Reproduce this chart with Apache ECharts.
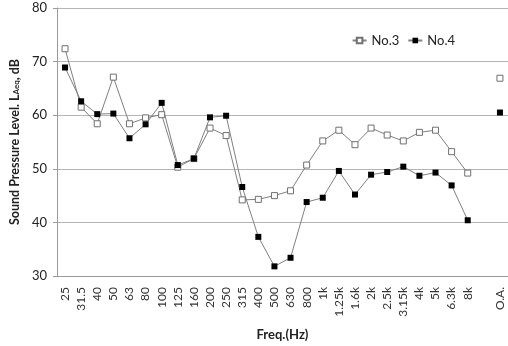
<!DOCTYPE html>
<html>
<head>
<meta charset="utf-8">
<script src="https://cdn.jsdelivr.net/npm/echarts@6/dist/echarts.min.js"></script>
<style>
html,body{margin:0;padding:0;background:#fff;}
#chart{width:508px;height:346px;}
</style>
</head>
<body>
<div id="chart"></div>
<script>
var categories = ['25','31.5','40','50','63','80','100','125','160','200','250','315','400','500','630','800','1k','1.25k','1.6k','2k','2.5k','3.15k','4k','5k','6.3k','8k','','O.A.'];
var no3 = [72.4,61.5,58.4,67.1,58.4,59.5,60.1,50.3,51.9,57.6,56.2,44.2,44.3,45.0,45.9,50.7,55.2,57.2,54.5,57.6,56.3,55.2,56.8,57.2,53.2,49.2,null,66.9];
var no4 = [68.9,62.6,60.2,60.3,55.7,58.3,62.3,50.7,51.9,59.6,59.9,46.6,37.3,31.8,33.4,43.8,44.6,49.6,45.2,48.9,49.4,50.4,48.7,49.3,46.9,40.4,null,60.5];
var yTicks = {min:30, max:80, interval:10};

var chart = echarts.init(document.getElementById('chart'), null, {renderer:'canvas'});
var font = 'Lato, "Open Sans", sans-serif';
chart.setOption({
  animation:false,
  backgroundColor:'#ffffff',
  textStyle:{fontFamily:font},
  grid:{left:47, right:-3, top:8, bottom:63, containLabel:false},
  legend:{
    top:29, right:48, itemGap:8, itemWidth:14, itemHeight:7,
    textStyle:{fontFamily:font, fontSize:13, color:'#222'},
    data:['No.3','No.4']
  },
  xAxis:{
    type:'category', data:categories, boundaryGap:true,
    axisLine:{show:true, lineStyle:{color:'#9a9a9a', width:1}},
    axisTick:{show:false},
    axisLabel:{interval:0, rotate:90, margin:11, fontSize:12, color:'#333', fontFamily:font},
    name:'Freq.(Hz)', nameLocation:'middle', nameGap:52,
    nameTextStyle:{fontFamily:font, fontSize:13, fontWeight:'bold', color:'#222'}
  },
  yAxis:{
    type:'value', min:yTicks.min, max:yTicks.max, interval:yTicks.interval,
    axisLine:{show:true, lineStyle:{color:'#9a9a9a', width:1}},
    axisTick:{show:true, inside:false, length:4, lineStyle:{color:'#9a9a9a'}},
    axisLabel:{margin:10, fontSize:13, color:'#222', fontFamily:font},
    splitLine:{show:true, lineStyle:{color:'#b5b5b5', width:1}},
    name:'Sound Pressure Level. L{sub|Aeq}, dB', nameLocation:'middle', nameGap:35, nameRotate:90,
    nameTextStyle:{fontFamily:font, fontSize:12.5, fontWeight:'bold', color:'#222',
      rich:{sub:{fontFamily:font, fontSize:8, fontWeight:'bold', color:'#222', padding:[4,0,0,0]}}}
  },
  series:[
    {
      name:'No.3', type:'line', data:no3, connectNulls:false,
      symbol:'rect', symbolSize:6,
      lineStyle:{color:'#808080', width:1},
      itemStyle:{color:'#ffffff', borderColor:'#707070', borderWidth:1},
      emphasis:{disabled:true}
    },
    {
      name:'No.4', type:'line', data:no4, connectNulls:false,
      symbol:'rect', symbolSize:6,
      lineStyle:{color:'#808080', width:1},
      itemStyle:{color:'#000000', borderColor:'#000000', borderWidth:0},
      emphasis:{disabled:true}
    }
  ]
});
</script>
</body>
</html>
